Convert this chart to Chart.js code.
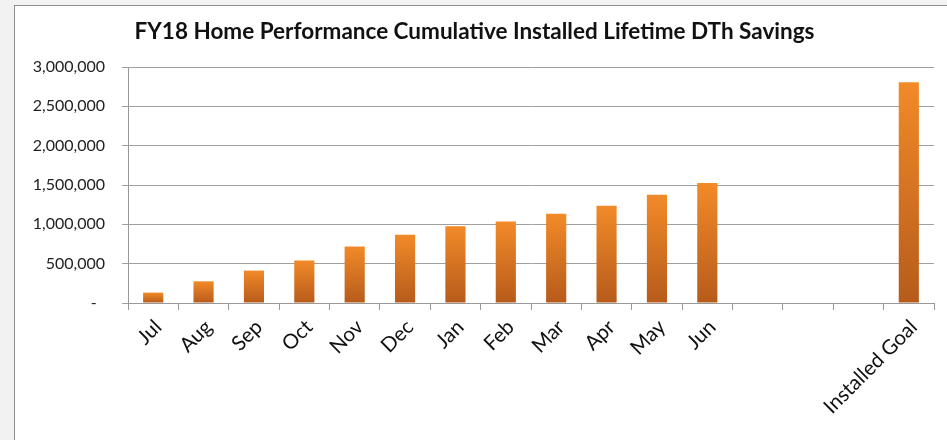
<!DOCTYPE html>
<html>
<head>
<meta charset="utf-8">
<script src="https://cdn.jsdelivr.net/npm/chart.js@4/dist/chart.umd.min.js"></script>
<style>
  html, body { margin: 0; padding: 0; background: #f2f2f2; overflow: hidden; }
  #frame {
    position: absolute; left: 14px; top: 5px;
    width: 940px; height: 440px;
    background: #fff; border: 1px solid #8e8e8e;
  }
  canvas { display: block; }
</style>
</head>
<body>
<div id="frame"><canvas id="chart" width="932" height="434"></canvas></div>
<script>
// categories (three blank slots between Jun and the goal)
const months = ['Jul', 'Aug', 'Sep', 'Oct', 'Nov', 'Dec', 'Jan', 'Feb', 'Mar', 'Apr', 'May', 'Jun', '', '', '', 'Installed Goal'];
// cumulative installed lifetime DTh savings
const savings = [132000, 276000, 412000, 540000, 718000, 866000, 976000, 1036000, 1133000, 1235000, 1375000, 1524000, null, null, null, 2805000];
const yTicks = [0, 500000, 1000000, 1500000, 2000000, 2500000, 3000000];

function barFill(c) {
  const chart = c.chart;
  if (!chart.chartArea || c.raw == null) return '#e07b25';
  const y = chart.scales.y;
  const top = y.getPixelForValue(c.raw);
  const bottom = y.getPixelForValue(0);
  const g = chart.ctx.createLinearGradient(0, top, 0, bottom);
  g.addColorStop(0, '#f28a28');
  g.addColorStop(1, '#b65b1b');
  return g;
}

new Chart(document.getElementById('chart'), {
  type: 'bar',
  data: {
    labels: months,
    datasets: [{
      data: savings,
      backgroundColor: barFill,
      borderWidth: 0,
      barPercentage: 0.4,
      categoryPercentage: 1
    }]
  },
  options: {
    responsive: false,
    animation: false,
    layout: { padding: { left: 0, right: 13, top: 0, bottom: 0 } },
    plugins: {
      legend: { display: false },
      tooltip: { enabled: false },
      title: {
        display: true,
        text: 'FY18 Home Performance Cumulative Installed Lifetime DTh Savings',
        color: '#111',
        font: { family: 'Lato', size: 22.5, weight: 'bold' },
        padding: { top: 12.5, bottom: 21.5 }
      }
    },
    scales: {
      x: {
        grid: { offset: true, drawOnChartArea: false, drawTicks: true, tickLength: 7, color: '#999' },
        border: { color: '#999' },
        ticks: {
          color: '#111',
          font: { family: 'Lato', size: 20.5 },
          minRotation: 45,
          maxRotation: 45,
          autoSkip: false,
          padding: 5,
          labelOffset: 5
        },
        afterFit: s => { s.height = 137; }
      },
      y: {
        min: 0,
        max: 3000000,
        afterBuildTicks: s => { s.ticks = yTicks.map(v => ({ value: v })); },
        grid: { color: '#a0a0a0', tickLength: 6 },
        border: { color: '#999' },
        ticks: {
          color: '#222',
          font: { family: 'Lato', size: 16 },
          padding: 17,
          callback: v => v === 0 ? '-  ' : v.toLocaleString('en-US')
        },
        afterFit: s => { s.width = 113; }
      }
    }
  }
});
</script>
</body>
</html>
